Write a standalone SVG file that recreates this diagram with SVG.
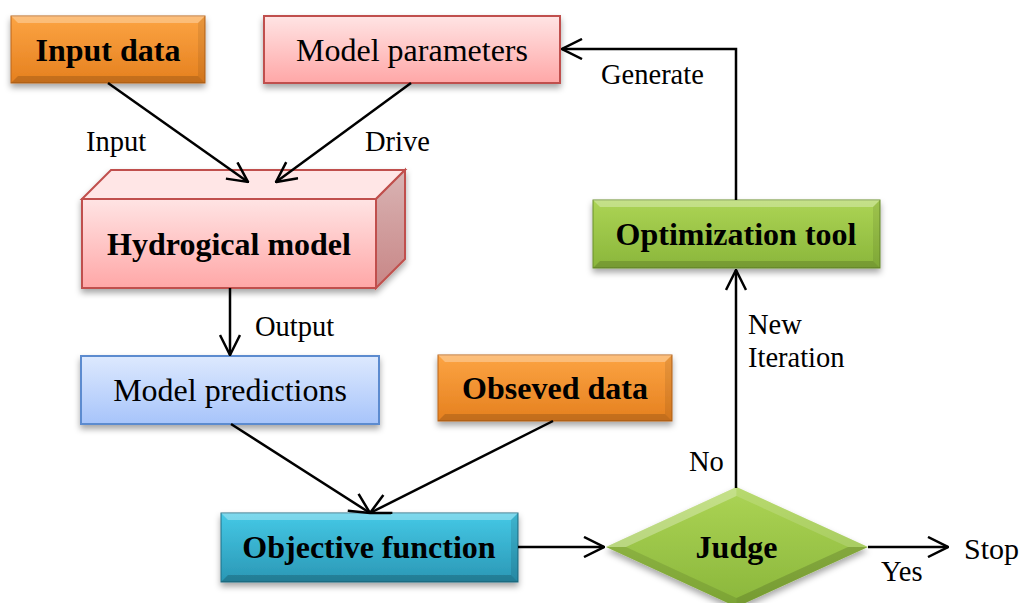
<svg xmlns="http://www.w3.org/2000/svg" width="1022" height="603" viewBox="0 0 1022 603" font-family="'Liberation Serif', 'Times New Roman', Times, serif">
<style>
text{font-family:'Liberation Serif','Times New Roman',Times,serif;fill:#000}
.b{font-weight:bold;font-size:32px;text-anchor:middle}
.n{font-size:32px;text-anchor:middle}
.l{font-size:28.5px}
.c{fill:none;stroke:#000;stroke-width:2.5}
</style>
<defs>
<filter id="sh" x="-10%" y="-10%" width="120%" height="140%">
<feDropShadow dx="0" dy="4" stdDeviation="3" flood-color="#000" flood-opacity="0.35"/>
</filter>
<marker id="ah" viewBox="0 0 22 22" refX="21" refY="11" markerWidth="22" markerHeight="22" markerUnits="userSpaceOnUse" orient="auto">
<path d="M1,1 L21,11 L1,21" fill="none" stroke="#000" stroke-width="2.5"/>
</marker>
<linearGradient id="gOr" x1="0" y1="0" x2="0" y2="1"><stop offset="0" stop-color="#fca443"/><stop offset="1" stop-color="#e5801f"/></linearGradient>
<linearGradient id="gCy" x1="0" y1="0" x2="0" y2="1"><stop offset="0" stop-color="#45c9e6"/><stop offset="1" stop-color="#2a97b5"/></linearGradient>
<linearGradient id="gGr" x1="0" y1="0" x2="0" y2="1"><stop offset="0" stop-color="#acd455"/><stop offset="1" stop-color="#8ab63b"/></linearGradient>
<linearGradient id="gPk" x1="0" y1="0" x2="0" y2="1"><stop offset="0" stop-color="#ffe4e4"/><stop offset="1" stop-color="#ffa7a7"/></linearGradient>
<linearGradient id="gPkS" x1="0" y1="0" x2="0" y2="1"><stop offset="0" stop-color="#d9b4b4"/><stop offset="1" stop-color="#c88686"/></linearGradient>
<linearGradient id="gBl" x1="0" y1="0" x2="0" y2="1"><stop offset="0" stop-color="#dde9fe"/><stop offset="1" stop-color="#a7c4fa"/></linearGradient>
</defs>

<g id="input-data">
<rect x="11" y="16" width="194" height="67" fill="url(#gOr)" stroke="#b9651c" stroke-width="1" filter="url(#sh)"/>
<polygon points="11,16 205,16 198,23 18,23" fill="#fff" opacity="0.3"/>
<polygon points="11,83 205,83 198,76 18,76" fill="#000" opacity="0.15"/>
<polygon points="205,16 205,83 198,76 198,23" fill="#000" opacity="0.08"/>
<text class="b" x="108" y="61">Input data</text>
</g>

<g id="model-parameters">
<rect x="264" y="16" width="296" height="67" fill="url(#gPk)" stroke="#c0504d" stroke-width="2" filter="url(#sh)"/>
<text class="n" x="412" y="61">Model parameters</text>
</g>

<g id="hydrogical-model">
<g filter="url(#sh)">
<polygon points="82,199 111,170 405,170 376,199" fill="#ffe6e6" stroke="#c0504d" stroke-width="2"/>
<polygon points="376,199 405,170 405,259 376,288" fill="url(#gPkS)" stroke="#c0504d" stroke-width="2"/>
<rect x="82" y="199" width="294" height="89" fill="url(#gPk)" stroke="#c0504d" stroke-width="2"/>
</g>
<text class="b" x="229" y="255">Hydrogical model</text>
</g>

<g id="model-predictions">
<rect x="81" y="356" width="298" height="68" fill="url(#gBl)" stroke="#5b8bcf" stroke-width="2" filter="url(#sh)"/>
<text class="n" x="230" y="401">Model predictions</text>
</g>

<g id="obseved-data">
<rect x="438" y="355" width="234" height="66" fill="url(#gOr)" stroke="#b9651c" stroke-width="1" filter="url(#sh)"/>
<polygon points="438,355 672,355 665,362 445,362" fill="#fff" opacity="0.3"/>
<polygon points="438,421 672,421 665,414 445,414" fill="#000" opacity="0.15"/>
<polygon points="672,355 672,421 665,414 665,362" fill="#000" opacity="0.08"/>
<text class="b" x="555" y="399">Obseved data</text>
</g>

<g id="objective-function">
<rect x="221" y="513" width="297" height="69" fill="url(#gCy)" stroke="#1f6f85" stroke-width="1" filter="url(#sh)"/>
<polygon points="221,513 518,513 511,520 228,520" fill="#fff" opacity="0.3"/>
<polygon points="221,582 518,582 511,575 228,575" fill="#000" opacity="0.18"/>
<polygon points="518,513 518,582 511,575 511,520" fill="#000" opacity="0.1"/>
<text class="b" x="369" y="558">Objective function</text>
</g>

<g id="optimization-tool">
<rect x="593" y="200" width="287" height="68" fill="url(#gGr)" stroke="#6b8f2c" stroke-width="1" filter="url(#sh)"/>
<polygon points="593,200 880,200 873,207 600,207" fill="#fff" opacity="0.3"/>
<polygon points="593,268 880,268 873,261 600,261" fill="#000" opacity="0.15"/>
<polygon points="880,200 880,268 873,261 873,207" fill="#000" opacity="0.08"/>
<text class="b" x="736" y="245">Optimization tool</text>
</g>

<g id="judge">
<polygon points="606,547 736.5,487 868,547 736.5,607" fill="url(#gGr)" filter="url(#sh)"/>
<polygon points="606,547 736.5,487 736.5,496 626,547" fill="#fff" opacity="0.3"/>
<polygon points="736.5,487 868,547 848,547 736.5,496" fill="#fff" opacity="0.15"/>
<polygon points="606,547 626,547 736.5,598 736.5,607" fill="#000" opacity="0.1"/>
<polygon points="868,547 848,547 736.5,598 736.5,607" fill="#000" opacity="0.15"/>
<text class="b" x="736.5" y="558">Judge</text>
</g>

<g id="connectors">
<line class="c" x1="108" y1="83" x2="248" y2="182" marker-end="url(#ah)"/>
<line class="c" x1="411" y1="83" x2="276" y2="182" marker-end="url(#ah)"/>
<line class="c" x1="230" y1="288" x2="230" y2="355" marker-end="url(#ah)"/>
<line class="c" x1="231" y1="424" x2="370" y2="513" marker-end="url(#ah)"/>
<line class="c" x1="553" y1="421" x2="370" y2="513" marker-end="url(#ah)"/>
<line class="c" x1="518" y1="547" x2="604" y2="547" marker-end="url(#ah)"/>
<line class="c" x1="736" y1="488" x2="736" y2="270" marker-end="url(#ah)"/>
<polyline class="c" points="736,200 736,49 562,49" marker-end="url(#ah)"/>
<line class="c" x1="868" y1="547" x2="948" y2="547" marker-end="url(#ah)"/>
</g>

<g id="labels">
<text class="l" x="86" y="151">Input</text>
<text class="l" x="365" y="151">Drive</text>
<text class="l" x="255" y="336">Output</text>
<text class="l" x="601" y="84">Generate</text>
<text class="l" x="748" y="334">New</text>
<text class="l" x="748" y="367">Iteration</text>
<text class="l" x="689" y="471">No</text>
<text class="l" x="881" y="581">Yes</text>
<text class="l" x="964" y="559" style="font-size:30px">Stop</text>
</g>
</svg>
